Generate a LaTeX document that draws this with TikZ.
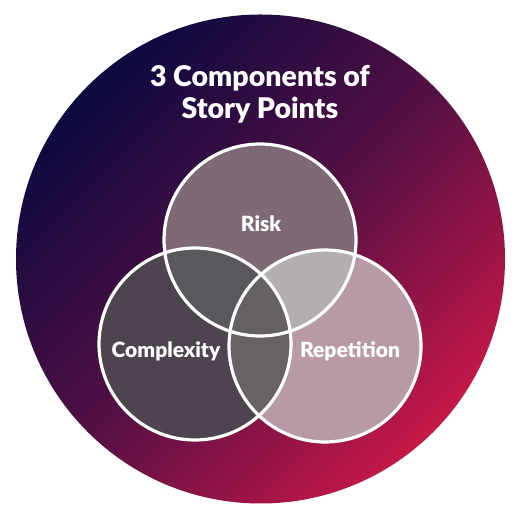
\documentclass[tikz,border=0pt]{standalone}
\usepackage{fontspec}
\setmainfont{Lato}[BoldFont={Lato Black}]
\usetikzlibrary{calc}
\definecolor{navy}{HTML}{0C0A40}
\definecolor{crimson}{HTML}{C41848}
\definecolor{riskfill}{HTML}{7E6A75}
\definecolor{cmplxfill}{HTML}{4E4450}
\definecolor{repfill}{HTML}{B89AA6}
\definecolor{riskcmplx}{HTML}{5A585C}
\definecolor{riskrep}{HTML}{B4AEB0}
\definecolor{cmplxrep}{HTML}{676365}
\definecolor{allthree}{HTML}{656163}
\def\vennr{96}
\tikzset{
  ring/.style={draw=white, line width=3.2pt},
  lbl/.style={text=white, font=\bfseries\fontsize{21}{25}\selectfont},
  ttl/.style={text=white, align=center, font=\bfseries\fontsize{28.5}{32}\selectfont}
}
\begin{document}
\begin{tikzpicture}[x=1pt, y=1pt]
		%%%%% START %%%%%
		\useasboundingbox (0, 0) rectangle (522, 522);
		
		\shade[top color=navy, bottom color=crimson, middle color=navy!62!crimson, shading angle=45] (260.5, 263) circle (244.5);
		
		\coordinate (risk) at (260, 282);
		\coordinate (cmplx) at (195, 178);
		\coordinate (rep) at (325, 176);
		
		\fill[riskfill] (risk) circle (\vennr);
		\fill[cmplxfill] (cmplx) circle (\vennr);
		\fill[repfill] (rep) circle (\vennr);
		
		\begin{scope}
			\clip (risk) circle (\vennr);
			\fill[riskcmplx] (cmplx) circle (\vennr);
			\fill[riskrep] (rep) circle (\vennr);
		\end{scope}
		\begin{scope}
			\clip (cmplx) circle (\vennr);
			\fill[cmplxrep] (rep) circle (\vennr);
			\clip (risk) circle (\vennr);
			\fill[allthree] (rep) circle (\vennr);
		\end{scope}
		
		\draw[ring] (risk) circle (\vennr);
		\draw[ring] (cmplx) circle (\vennr);
		\draw[ring] (rep) circle (\vennr);
		
		\node[ttl] (title) at (260, 428) {3 Components of\\Story Points};
		\node[lbl] (risklbl) at (261, 298) {Risk};
		\node[lbl] (cmplxlbl) at (166, 171) {Complexity};
		\node[lbl] (replbl) at (350, 171) {Repetition};
		%%%%% END %%%%%
	\end{tikzpicture}
\end{document}
